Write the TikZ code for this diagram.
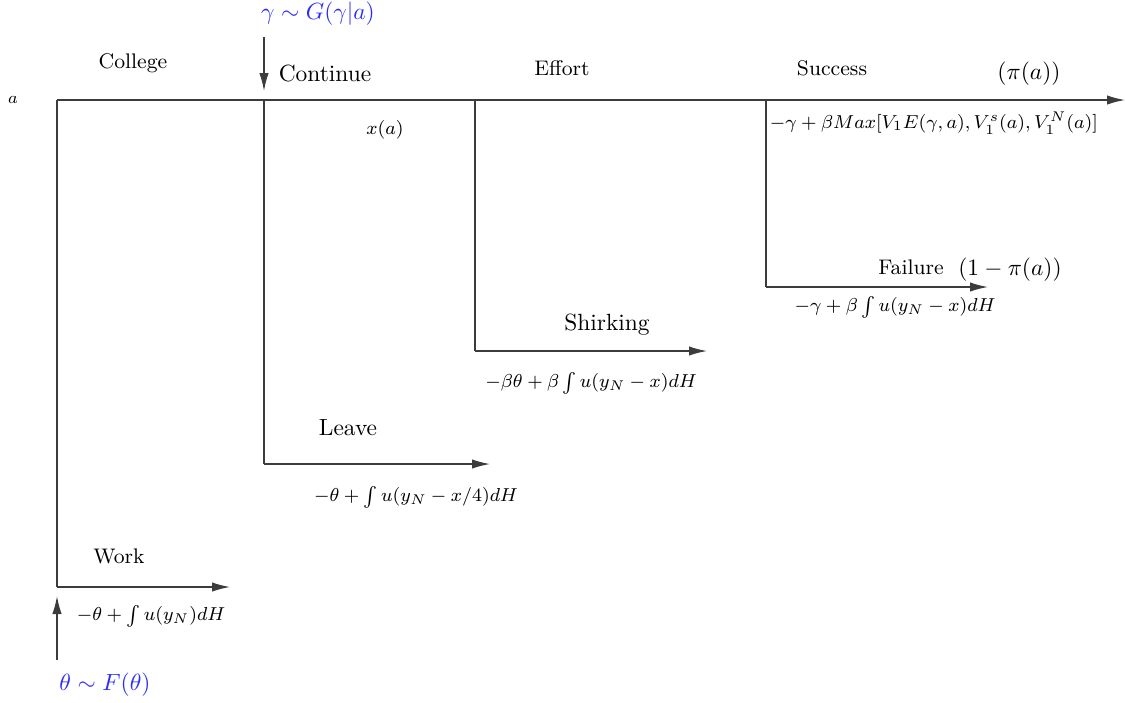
\documentclass[tikz,border=0pt]{standalone}
\usepackage{amsmath}
\usepackage{amssymb}
\usetikzlibrary{positioning,arrows.meta}
\definecolor{linegray}{RGB}{60,60,60}
\definecolor{shockblue}{RGB}{45,45,245}
\tikzset{
  branch/.style ={draw=linegray, line width=0.55pt},
  move/.style   ={branch, -{Latex[length=2.7mm,width=1.4mm]}},
  choice/.style ={inner sep=1pt, font=\normalsize},
  stage/.style  ={inner sep=1pt, font=\small},
  payoff/.style ={inner sep=1pt, font=\fontsize{8.4}{10}\selectfont},
  shock/.style  ={inner sep=1pt, font=\normalsize, text=shockblue},
}

\begin{document}
\begin{tikzpicture}[x=0.015cm, y=-0.015cm]
\useasboundingbox (0,0) rectangle (1125,702);
% points on the main line
\coordinate (root) at (57,100);
\coordinate (cont) at (264,100);
\coordinate (eff) at (475,100);
\coordinate (succ) at (766,100);
\coordinate (mainend) at (1125,100);
% corners and ends of the branches
\coordinate (workc) at (57,587);   \coordinate (workend) at (230,587);
\coordinate (leavec) at (264,464); \coordinate (leaveend) at (490,464);
\coordinate (shirkc) at (475,351); \coordinate (shirkend) at (707,351);
\coordinate (failc) at (766,287);  \coordinate (failend) at (988,287);
\coordinate (gtop) at (264,37);    \coordinate (gbot) at (264,91);
\coordinate (tbot) at (57,660);    \coordinate (ttop) at (57,596);

\draw[move] (root) -- (mainend);
\draw[branch] (root) -- (workc);
\draw[move] (workc) -- (workend);
\draw[branch] (cont) -- (leavec);
\draw[move] (leavec) -- (leaveend);
\draw[branch] (eff) -- (shirkc);
\draw[move] (shirkc) -- (shirkend);
\draw[branch] (succ) -- (failc);
\draw[move] (failc) -- (failend);
\draw[move] (gtop) -- (gbot);
\draw[move] (tbot) -- (ttop);

% shocks
\node[shock] (gam) at (318,14) {$\gamma\sim G(\gamma|a)$};
\node[shock] (the) at (105,685) {$\theta\sim F(\theta)$};

% labels along the main line
\node[font=\scriptsize] (ability) at (13,100) {$a$};
\node[stage] (college) at (133,63) {College};
\node[choice] (continue) at (325,73) {Continue};
\node[stage] (effort) at (562,68) {Effort};
\node[stage] (success) at (832,68) {Success};
\node[choice] (psucc) at (1029,74) {$(\pi(a))$};
\node[payoff] (cost) at (385,130) {$x(a)$};
\node[payoff, anchor=west] (paysucc) at (767,123) {$-\gamma+\beta Max[V_1E(\gamma,a),V_1^s(a),V_1^N(a)]$};

% labels on the branches
\node[stage] (failure) at (911,267) {Failure};
\node[choice] (pfail) at (1010,270) {$(1-\pi(a))$};
\node[payoff] (payfail) at (895,307) {$-\gamma+\beta\int u(y_N-x)dH$};
\node[choice] (shirking) at (607,325) {Shirking};
\node[payoff] (payshirk) at (591,383) {$-\beta\theta+\beta\int u(y_N-x)dH$};
\node[choice] (leave) at (348,428) {Leave};
\node[payoff] (payleave) at (416,497) {$-\theta+\int u(y_N-x/4)dH$};
\node[stage] (work) at (119,556) {Work};
\node[payoff] (paywork) at (151,616) {$-\theta+\int u(y_N)dH$};
\end{tikzpicture}
\end{document}
